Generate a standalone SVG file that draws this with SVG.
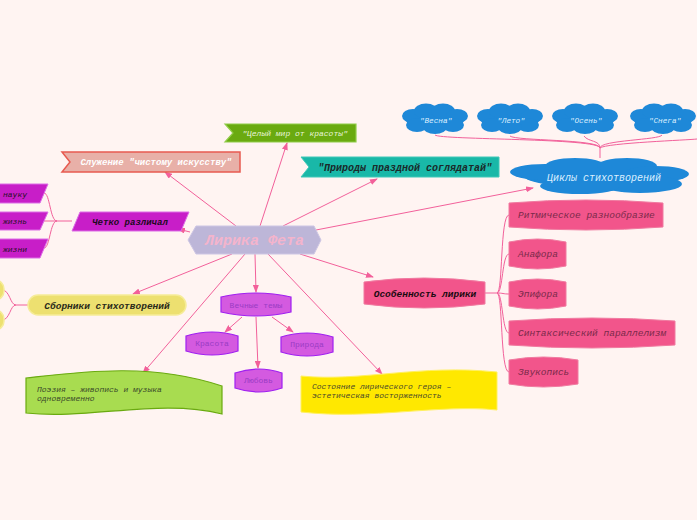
<svg xmlns="http://www.w3.org/2000/svg" width="697" height="520" viewBox="0 0 697 520">
<defs>
<style>
text{font-family:"Liberation Mono","DejaVu Sans Mono",monospace;font-style:italic}
.e{fill:none;stroke:#f2609a;stroke-width:1}
.ea{fill:none;stroke:#f2609a;stroke-width:1;marker-end:url(#ar)}
.vt{fill:#d45ae0;stroke:#a020f0;stroke-width:1.2}
.vtt{fill:#9a3cc4;font-size:8px;text-anchor:middle;font-style:normal}
.pk{fill:#f2558b;stroke:#f07aa0;stroke-width:1}
.pkt{fill:#7a2a4a;font-size:9.5px}
.mg{fill:#c81ec8;stroke:#dc6ce6;stroke-width:1}
.cl{fill:#1e88d8}
.clt{fill:#dcefff;font-size:7.7px;text-anchor:middle}
</style>
<marker id="ar" markerWidth="8" markerHeight="6" refX="7" refY="3" orient="auto" markerUnits="userSpaceOnUse">
<path d="M0,0 L8,3 L0,6 Z" fill="#f2609a"/>
</marker>
<g id="cloud">
<ellipse cx="0" cy="0" rx="30" ry="9"/>
<ellipse cx="-22" cy="-3" rx="11" ry="7"/>
<ellipse cx="-9" cy="-8" rx="12" ry="7.5"/>
<ellipse cx="8" cy="-8" rx="12" ry="7.5"/>
<ellipse cx="22" cy="-3" rx="11" ry="7"/>
<ellipse cx="18" cy="6" rx="11" ry="7"/>
<ellipse cx="0" cy="8" rx="12" ry="7"/>
<ellipse cx="-18" cy="6" rx="11" ry="7"/>
</g>
</defs>
<rect width="697" height="520" fill="#fff4f2"/>

<g id="connectors">
<path class="ea" d="M236,226 L165,172"/>
<path class="ea" d="M260,226 L287,143"/>
<path class="ea" d="M283,226 L377,179"/>
<path class="ea" d="M316,230 L533,188"/>
<path class="ea" d="M190,232 L178,229"/>
<path class="ea" d="M232,254 L133,294"/>
<path class="ea" d="M255,254 L256,292"/>
<path class="ea" d="M245,254 L143,373"/>
<path class="ea" d="M268,254 L382,374"/>
<path class="ea" d="M300,254 L373,277"/>
<path class="ea" d="M242,317 L225,332"/>
<path class="ea" d="M256,317 L258,368"/>
<path class="ea" d="M272,317 L293,332"/>
<path class="e" d="M600,158 L600,148"/>
<path class="e" d="M435,135 C440,140 600,138 600,148"/>
<path class="e" d="M510,136 C515,141 600,139 600,148"/>
<path class="e" d="M584,136 C588,142 600,140 600,148"/>
<path class="e" d="M662,135 C660,140 600,140 600,148"/>
<path class="e" d="M600,148 C605,143 690,140 697,139"/>
<path class="e" d="M72,221 L57,221"/>
<path class="e" d="M57,221 C50,221 50,193 44,193"/>
<path class="e" d="M57,221 L44,221"/>
<path class="e" d="M57,221 C50,221 50,248 44,248"/>
<path class="e" d="M28,305 L16,305"/>
<path class="e" d="M16,305 C10,305 10,290 2,290"/>
<path class="e" d="M16,305 C10,305 10,320 2,320"/>
<path class="e" d="M485,293 L497,293"/>
<path class="e" d="M497,293 C503,293 500,215 509,215"/>
<path class="e" d="M497,293 C503,293 502,254 509,254"/>
<path class="e" d="M497,293 C503,293 503,294 509,294"/>
<path class="e" d="M497,293 C503,293 502,333 509,333"/>
<path class="e" d="M497,293 C503,293 500,372 509,372"/>
</g>

<g id="central">
<path d="M196,226 H314 L321,240 L314,254 H196 L188,240 Z" fill="#bdb6d8" stroke="#cdc6e4"/>
<text x="254.5" y="245" font-size="15" font-weight="bold" font-style="normal" text-anchor="middle" fill="#f4b4cc">Лирика Фета</text>
</g>

<g id="sluzhenie">
<path d="M62,152 H240 V172 H62 L70,162 Z" fill="#e8b0a8" stroke="#e85a50" stroke-width="1.5"/>
<text x="156" y="165" font-size="9" font-weight="bold" text-anchor="middle" fill="#ffffff">Служение "чистому искусству"</text>
</g>

<g id="celyi">
<path d="M225,124 H356 V142 H225 L233,133 Z" fill="#6aaa10" stroke="#90cc48" stroke-width="1.2"/>
<text x="295" y="136" font-size="8" font-style="normal" text-anchor="middle" fill="#e8f4d8">"Целый мир от красоты"</text>
</g>

<g id="prirody">
<path d="M301,157 H499 V177 H301 L309,167 Z" fill="#19b8a8" stroke="#40c8b8"/>
<text x="405" y="170.5" font-size="10" font-weight="bold" text-anchor="middle" fill="#1a2a2a">"Природы праздной соглядатай"</text>
</g>

<g id="cikly">
<g class="cl">
<ellipse cx="600" cy="176" rx="76" ry="12"/>
<ellipse cx="545" cy="172" rx="35" ry="8"/>
<ellipse cx="575" cy="166" rx="30" ry="8"/>
<ellipse cx="627" cy="166" rx="30" ry="8"/>
<ellipse cx="656" cy="174" rx="33" ry="8"/>
<ellipse cx="640" cy="184" rx="42" ry="9"/>
<ellipse cx="580" cy="186" rx="40" ry="8"/>
</g>
<text x="604" y="181" font-size="10" text-anchor="middle" fill="#dcefff">Циклы стихотворений</text>
</g>

<g id="vesna">
<use href="#cloud" class="cl" transform="translate(435,119)"/>
<text class="clt" x="436" y="123">"Весна"</text>
</g>
<g id="leto">
<use href="#cloud" class="cl" transform="translate(510,119)"/>
<text class="clt" x="511" y="123">"Лето"</text>
</g>
<g id="osen">
<use href="#cloud" class="cl" transform="translate(585,119)"/>
<text class="clt" x="586" y="123">"Осень"</text>
</g>
<g id="snega">
<use href="#cloud" class="cl" transform="translate(663,119)"/>
<text class="clt" x="665" y="123">"Снега"</text>
</g>

<g id="chetko">
<path d="M80,212 H189 L181,231 H72 Z" class="mg"/>
<text x="130" y="224.5" font-size="9" font-weight="bold" text-anchor="middle" fill="#1a0a1a">Четко различал</text>
</g>
<g id="nauku">
<path d="M-5,184 H48 L40,203 H-5 Z" class="mg"/>
<text x="3" y="196.5" font-size="8" fill="#2a102a">науку</text>
</g>
<g id="zhizn">
<path d="M-5,212 H48 L40,230 H-5 Z" class="mg"/>
<text x="3" y="224" font-size="8" fill="#2a102a">жизнь</text>
</g>
<g id="zhizni">
<path d="M-5,239 H48 L40,258 H-5 Z" class="mg"/>
<text x="3" y="251.5" font-size="8" fill="#2a102a">жизни</text>
</g>

<g id="sborniki">
<rect x="28" y="295" width="158" height="20" rx="10" fill="#ede070" stroke="#f6ec98" stroke-width="1.5"/>
<text x="107" y="308.5" font-size="9.5" font-weight="bold" text-anchor="middle" fill="#2a2a1a">Сборники стихотворений</text>
</g>
<g id="yel1">
<rect x="-20" y="280" width="24" height="20" rx="9" fill="#ede070" stroke="#f6ec98" stroke-width="1.5"/>
</g>
<g id="yel2">
<rect x="-20" y="310" width="24" height="20" rx="9" fill="#ede070" stroke="#f6ec98" stroke-width="1.5"/>
</g>

<g id="vechnye">
<path d="M221,297 Q256,289 291,297 V312 Q256,320 221,312 Z" class="vt"/>
<text class="vtt" x="256" y="307.5">Вечные темы</text>
</g>
<g id="krasota">
<path d="M186,336 Q212,328 238,336 V351 Q212,359 186,351 Z" class="vt"/>
<text class="vtt" x="212" y="346">Красота</text>
</g>
<g id="priroda">
<path d="M281,337 Q307,329 333,337 V352 Q307,360 281,352 Z" class="vt"/>
<text class="vtt" x="307" y="347">Природа</text>
</g>
<g id="lubov">
<path d="M235,373 Q258.5,365 282,373 V388 Q258.5,396 235,388 Z" class="vt"/>
<text class="vtt" x="258.5" y="383">Любовь</text>
</g>

<g id="poeziya">
<path d="M26,378 C80,372 150,362 222,386 V414 C160,398 90,420 26,413 Z" fill="#a8dc50" stroke="#6aaa10" stroke-width="1.2"/>
<text x="37" y="392" font-size="8" fill="#3a4a2a">Поэзия – живопись и музыка</text>
<text x="37" y="401" font-size="8" fill="#3a4a2a">одновременно</text>
</g>

<g id="sostoyanie">
<path d="M301,376 C360,382 420,364 497,372 V410 C440,404 370,420 301,412 Z" fill="#ffe800" stroke="#fff060"/>
<text x="312" y="389" font-size="8" fill="#4a4a2a">Состояние лирического героя –</text>
<text x="312" y="398" font-size="8" fill="#4a4a2a">эстетическая восторженность</text>
</g>

<g id="osobennost">
<path d="M364,282 Q424,274 485,282 V304 Q424,312 364,304 Z" fill="#f2558b" stroke="#f07aa0"/>
<text x="425" y="296.5" font-size="9.5" font-weight="bold" text-anchor="middle" fill="#1a0a10">Особенность лирики</text>
</g>
<g id="ritm">
<path d="M509,203 Q586,197 663,203 V227 Q586,233 509,227 Z" class="pk"/>
<text class="pkt" x="518" y="218">Ритмическое разнообразие</text>
</g>
<g id="anafora">
<path d="M509,242 Q537.5,236 566,242 V266 Q537.5,272 509,266 Z" class="pk"/>
<text class="pkt" x="518" y="257">Анафора</text>
</g>
<g id="epifora">
<path d="M509,282 Q537.5,276 566,282 V306 Q537.5,312 509,306 Z" class="pk"/>
<text class="pkt" x="518" y="297">Эпифора</text>
</g>
<g id="sintaks">
<path d="M509,321 Q592,315 675,321 V345 Q592,351 509,345 Z" class="pk"/>
<text class="pkt" x="518" y="336">Синтаксический параллелизм</text>
</g>
<g id="zvuk">
<path d="M509,360 Q543.5,354 578,360 V384 Q543.5,390 509,384 Z" class="pk"/>
<text class="pkt" x="518" y="375">Звукопись</text>
</g>
</svg>
